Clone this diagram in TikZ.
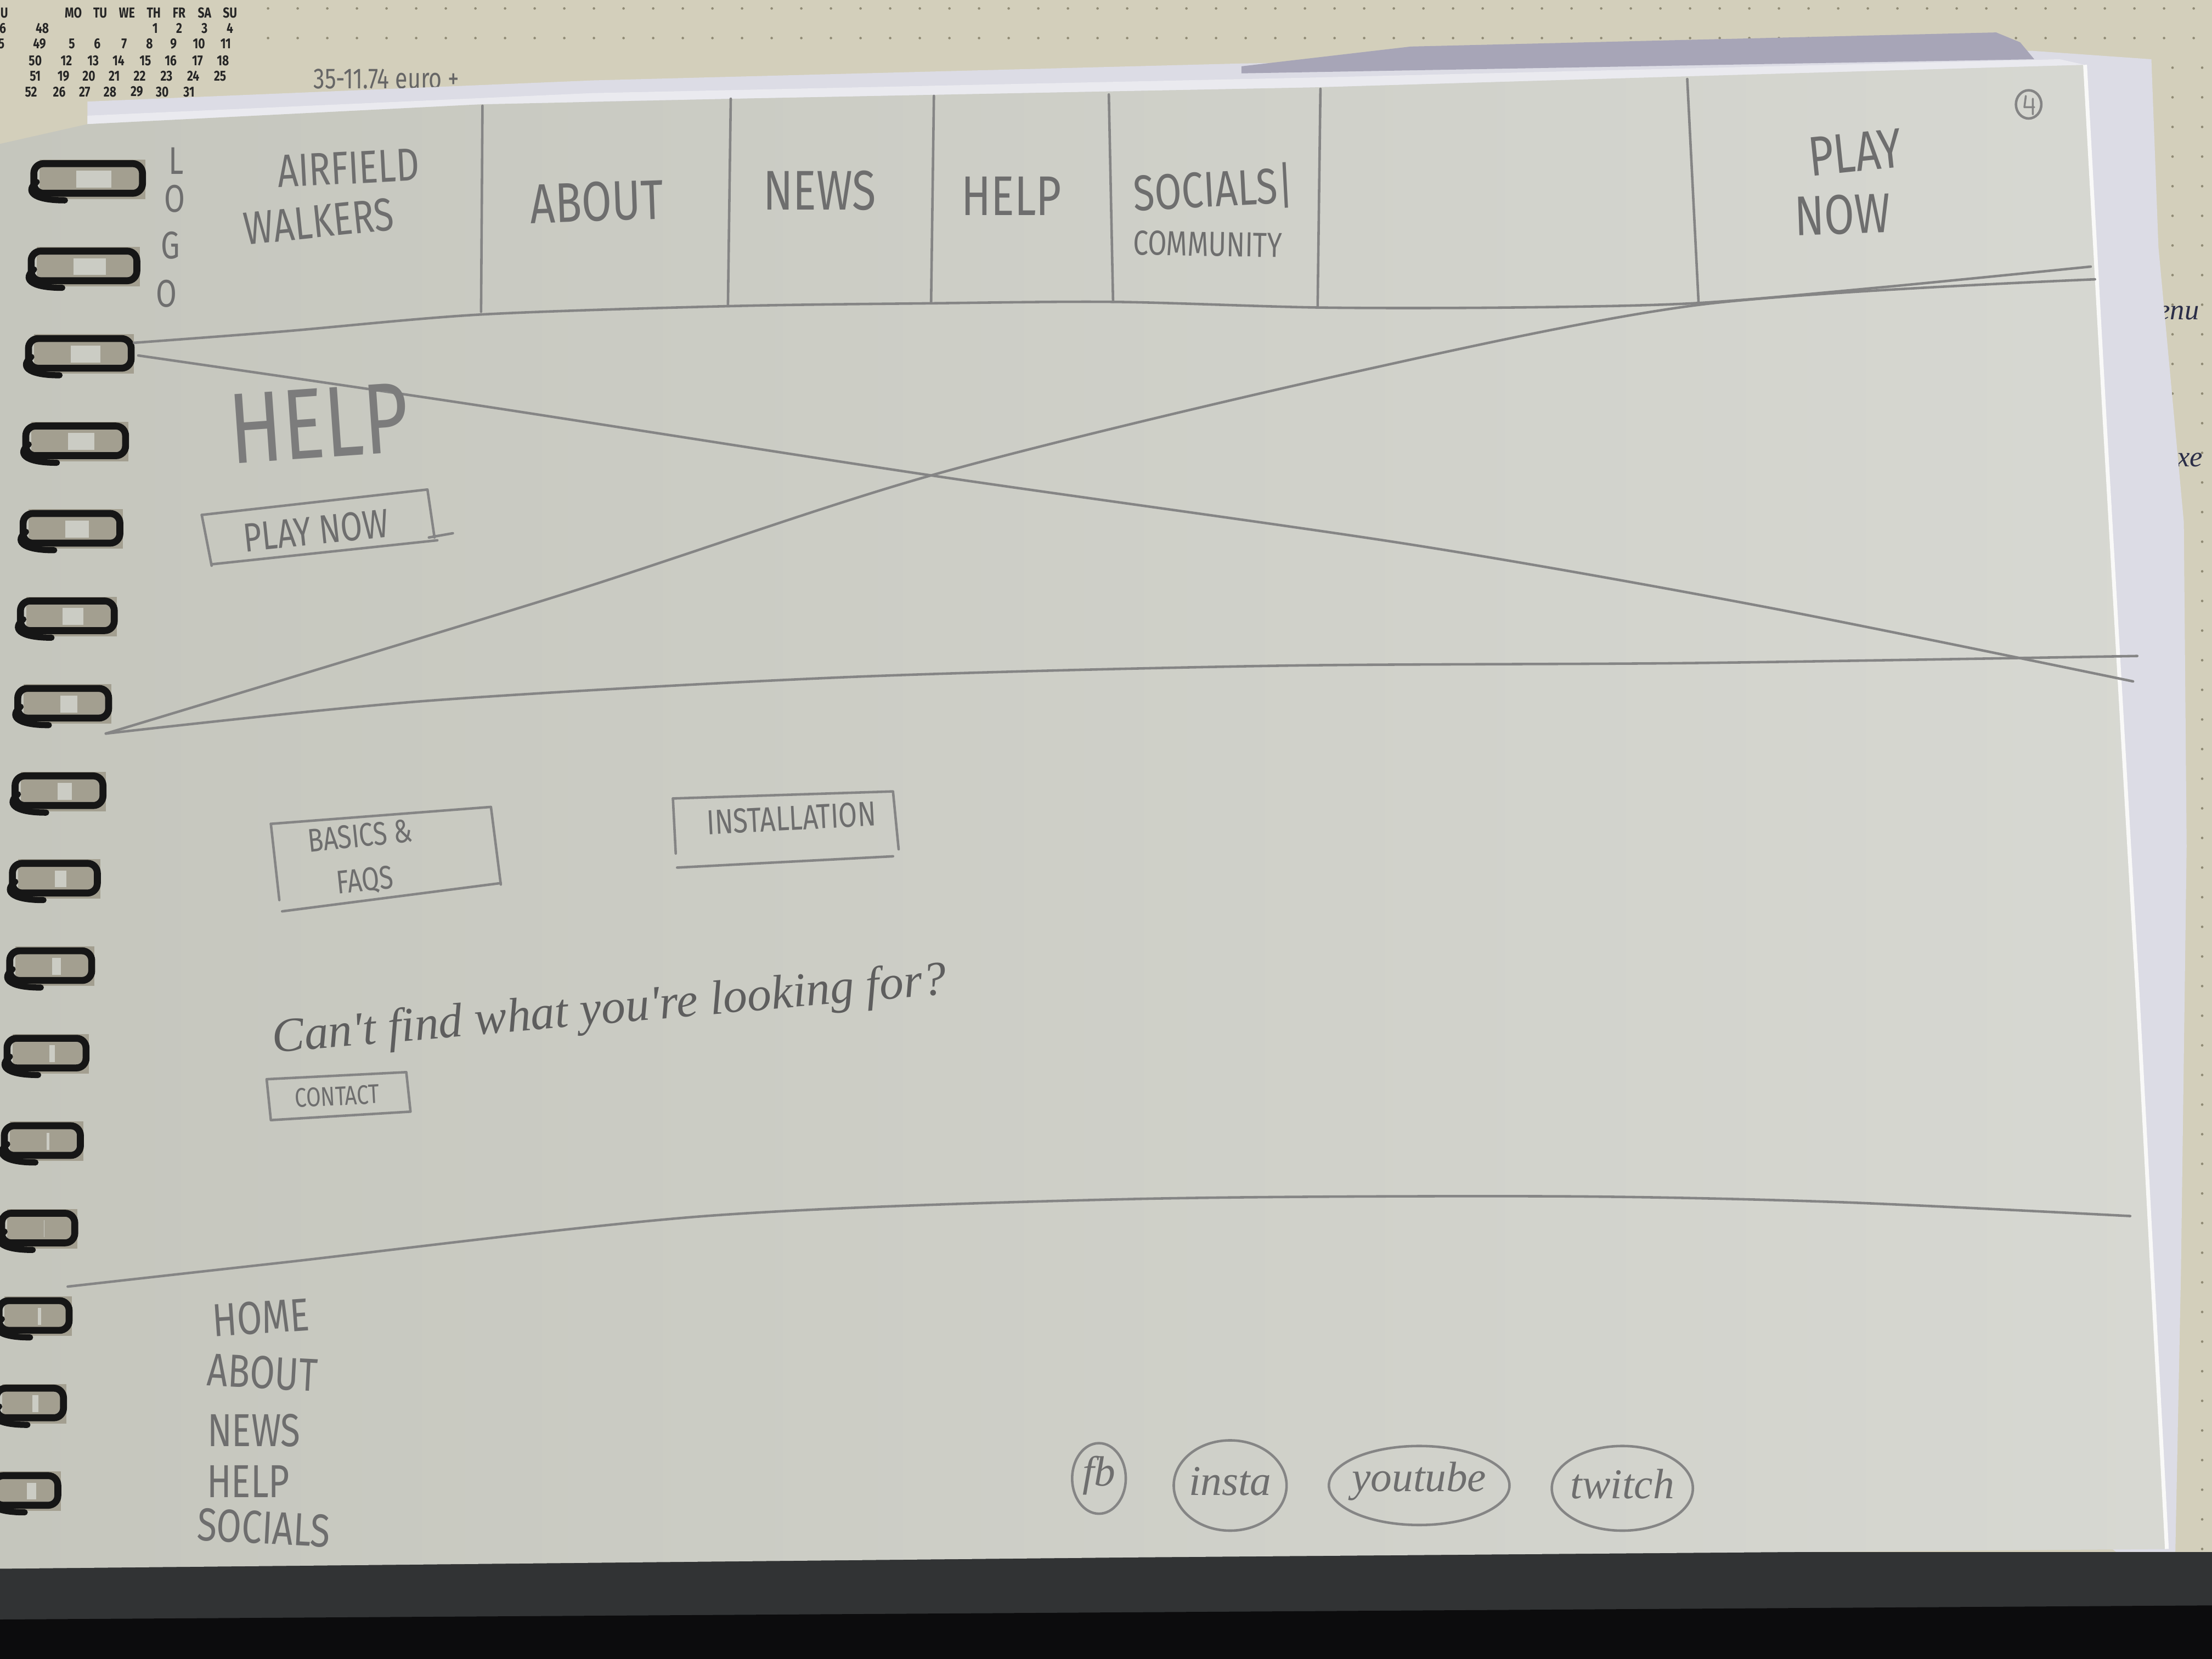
\documentclass[tikz,border=0pt]{standalone}
\usepackage{fontspec}
\setmainfont{Fira Sans}
\newfontfamily\hand[FakeStretch=0.78]{Fira Sans}
\newfontfamily\calfont[FakeStretch=0.8]{Fira Sans}
\newfontfamily\cursive{Liberation Serif}
\newcommand\hsz[1]{\fontsize{#1}{#1}\selectfont}

\definecolor{note}{HTML}{D3CFBB}
\definecolor{notedot}{HTML}{8F8A74}
\definecolor{sheet}{HTML}{DCDCE5}
\definecolor{sheetdark}{HTML}{A7A5B7}
\definecolor{paperL}{HTML}{C5C6BD}
\definecolor{paperR}{HTML}{D7D8D2}
\definecolor{lead}{HTML}{858585}
\definecolor{leadtext}{HTML}{6E6E6E}
\definecolor{ink}{HTML}{2B2E48}
\definecolor{wire}{HTML}{161616}
\definecolor{hole}{HTML}{A39F90}
\definecolor{tabletop}{HTML}{313334}
\definecolor{floor}{HTML}{0C0C0D}

\tikzset{
  pencil/.style={draw=lead, line width=1.3pt, line cap=round, line join=round},
  ptext/.style={text=leadtext, inner sep=0pt},
  navtext/.style={ptext, font=\hand\hsz{29}},
  foottext/.style={ptext, font=\hand\hsz{24}},
  caltext/.style={text=black!85, inner sep=0pt, font=\calfont\bfseries\hsz{7.5}},
  ring/.style={draw=wire, line width=3.6pt, rounded corners=5pt},
}

\begin{document}
\begin{tikzpicture}[x=0.025714cm, y=-0.025714cm]
\useasboundingbox (0,0) rectangle (1568,1176);

% dotted notebook underneath everything
\fill[note] (0,0) rectangle (1568,1176);
\foreach \x in {190,211,...,1568} \foreach \y in {6,27} \fill[notedot] (\x,\y) circle (0.9);
\foreach \x in {1540,1561} \foreach \y in {48,69,...,1100} \fill[notedot] (\x,\y) circle (0.9);

% calendar printed on the notebook
\node[caltext] (cU) at (3,9) {U};
\foreach \d/\x in {MO/52,TU/71,WE/90,TH/109,FR/127,SA/145,SU/163}
  \node[caltext] (cal-\d) at (\x,9) {\d};
\node[caltext] (c6) at (2,20) {6};
\node[caltext] (c5) at (1,31) {5};
\node[caltext] (w48) at (30,20) {48};
\foreach \d/\x in {1/110,2/127,3/145,4/163}
  \node[caltext] (d\d) at (\x,20) {\d};
\node[caltext] (w49) at (28,31) {49};
\foreach \d/\x in {5/51,6/69,7/88,8/106,9/123,10/141,11/160}
  \node[caltext] (d\d) at (\x,31) {\d};
\node[caltext] (w50) at (25,43) {50};
\foreach \d/\x in {12/47,13/66,14/84,15/103,16/121,17/140,18/158}
  \node[caltext] (d\d) at (\x,43) {\d};
\node[caltext] (w51) at (25,54) {51};
\foreach \d/\x in {19/45,20/63,21/81,22/99,23/118,24/137,25/156}
  \node[caltext] (d\d) at (\x,54) {\d};
\node[caltext] (w52) at (22,65) {52};
\foreach \d/\x in {26/42,27/60,28/78,29/97,30/115,31/134}
  \node[caltext] (d\d) at (\x,65) {\d};

% handwriting on the notebook
\node[text=black!60, inner sep=0pt, anchor=west, font=\hand\hsz{15}] (euro) at (222,56) {35-11.74 euro +};
\node[text=ink, inner sep=0pt, anchor=west, font=\cursive\itshape\hsz{15}] (enu) at (1529,222) {enu};
\node[text=ink, inner sep=0pt, anchor=west, font=\cursive\itshape\hsz{15}] (xe) at (1543,326) {xe};

% sheet lying under the sketch page
\fill[sheet] (62,95) -- (62,72) -- (420,57) -- (880,45) -- (1440,36) -- (1525,42)
  -- (1530,175) -- (1548,370) -- (1550,600) -- (1546,900) -- (1542,1100) -- (1500,1100) -- cycle;
\fill[sheetdark] (880,47) -- (1000,33) -- (1415,23) -- (1432,30) -- (1442,42) -- (880,52) -- cycle;
\fill[sheet!60!white] (62,82) -- (420,66) -- (930,55) -- (1460,42) -- (1478,46) -- (930,62) -- (420,72) -- (62,88) -- cycle;

% table edge and floor
\fill[tabletop] (0,1100) rectangle (1568,1176);
\fill[floor] (0,1148) -- (1568,1138) -- (1568,1176) -- (0,1176) -- cycle;

% the sketch page
\shade[left color=paperL, right color=paperR]
  (0,102) -- (62,88) -- (340,74) -- (520,70) -- (930,62) -- (1200,54) -- (1478,46)
  -- (1492,300) -- (1515,700) -- (1536,1098) -- (800,1104) -- (0,1112) -- cycle;
\draw[white!85!paperR, line width=2pt] (1478,46) -- (1492,300) -- (1515,700) -- (1536,1098);

% spiral binding
\foreach \i in {0,...,15} {
  \pgfmathsetmacro\yy{127+\i*62.0}
  \pgfmathsetmacro\ll{24-\i*1.9}
  \pgfmathsetmacro\rr{101-\i*4.0}
  \fill[hole] (\ll+4,\yy-14) rectangle (\rr+2,\yy+14);
  \fill[paperL!90!white] (\ll+30,\yy-6) rectangle (\rr-22,\yy+6);
  \draw[ring] (\rr,\yy-11) -- (\ll,\yy-11) -- (\ll,\yy+10) -- (\rr,\yy+10) -- cycle;
  \draw[wire, line width=3.2pt, line cap=round] (\ll+2,\yy+2) .. controls (\ll-6,\yy+8) and (\ll-2,\yy+15) .. (\ll+22,\yy+15);
}

% ---------- header ----------
\draw[pencil] plot[smooth] coordinates {(95,243) (200,235) (340,223) (517,217) (660,215) (790,214) (935,218) (1070,218) (1200,215) (1330,204) (1482,189)};
\draw[pencil] (342,75) -- (341,221);
\draw[pencil] (518,70) -- (516,217);
\draw[pencil] (662,68) -- (660,215);
\draw[pencil] (786,67) -- (789,214);
\draw[pencil] (936,63) -- (934,218);
\draw[pencil] (1196,56) -- (1204,214);

\node[ptext, font=\hand\hsz{20}] (logo-l) at (125,114) {L};
\node[ptext, font=\hand\hsz{20}] (logo-o) at (124,141) {O};
\node[ptext, font=\hand\hsz{20}] (logo-g) at (121,174) {G};
\node[ptext, font=\hand\hsz{20}] (logo-o2) at (118,208) {O};
\node[navtext, rotate=3, font=\hand\hsz{24}] (airfield) at (247,119) {AIRFIELD};
\node[navtext, rotate=6, font=\hand\hsz{24}] (walkers) at (226,157) {WALKERS};
\node[navtext, rotate=2] (about) at (423,143) {ABOUT};
\node[navtext] (news) at (581,135) {NEWS};
\node[navtext] (help) at (717,139) {HELP};
\node[navtext, rotate=3, font=\hand\hsz{26}] (socials) at (860,134) {SOCIALS|};
\node[ptext, rotate=-1, font=\hand\hsz{18}] (community) at (856,173) {COMMUNITY};
\node[navtext, rotate=6] (play) at (1315,108) {PLAY};
\node[navtext, rotate=2] (now) at (1306,152) {NOW};
\draw[pencil] (1438,74) ellipse (9 and 10);
\draw[pencil, line width=1pt] (1436,68) -- (1435,76) -- (1442,76) (1441,70) -- (1441,81);

% ---------- hero (image placeholder) ----------
\draw[pencil] plot[smooth] coordinates {(98,252) (330,286) (660,337) (1000,386) (1250,430) (1512,483)};
\draw[pencil] plot[smooth] coordinates {(75,520) (400,421) (660,337) (950,266) (1205,216) (1485,198)};
\draw[pencil] plot[smooth] coordinates {(75,520) (300,497) (600,480) (900,472) (1200,470) (1515,465)};

\node[ptext, rotate=4, font=\hand\hsz{52}, text=leadtext!90] (title) at (226,300) {HELP};
\draw[pencil] (143,365) -- (303,347) -- (308,381) (304,381) -- (321,378);
\draw[pencil] (143,365) -- (150,401);
\draw[pencil] (150,400) -- (310,383);
\node[ptext, rotate=6, font=\hand\hsz{21}] (hero-play) at (224,376) {PLAY NOW};

% ---------- help topics ----------
\draw[pencil] (192,584) -- (348,572) -- (355,627);
\draw[pencil] (192,584) -- (198,638);
\draw[pencil] (200,646) -- (355,626);
\node[ptext, rotate=6, align=center, font=\hand\hsz{17}, execute at begin node={\baselineskip=23pt}] (basics) at (257,609) {BASICS \&\\FAQS};

\draw[pencil] (477,566) -- (633,561) -- (637,602);
\draw[pencil] (477,566) -- (479,605);
\draw[pencil] (480,615) -- (633,607);
\node[ptext, rotate=3, font=\hand\hsz{18}] (install) at (561,580) {INSTALLATION};

\node[ptext, rotate=5, font=\cursive\itshape\hsz{25}, text=leadtext!85!black] (cant) at (432,717) {Can't find what you're looking for?};

\draw[pencil] (189,765) -- (288,760) -- (291,788) -- (192,794) -- cycle;
\node[ptext, rotate=3, font=\hand\hsz{14}] (contact) at (239,777) {CONTACT};

% ---------- footer ----------
\draw[pencil] plot[smooth] coordinates {(48,912) (200,895) (500,862) (800,850) (1100,848) (1300,852) (1510,862)};

\node[foottext, rotate=4] (f-home) at (185,934) {HOME};
\node[foottext, rotate=-3] (f-about) at (186,973) {ABOUT};
\node[foottext] (f-news) at (180,1014) {NEWS};
\node[foottext] (f-help) at (176,1050) {HELP};
\node[foottext, rotate=-3] (f-socials) at (187,1083) {SOCIALS};

\draw[pencil] (779,1048) ellipse (19 and 25);
\node[ptext, font=\cursive\itshape\hsz{22}] (fb) at (779,1046) {fb};
\draw[pencil] (872,1053) ellipse (40 and 32);
\node[ptext, font=\cursive\itshape\hsz{22}] (insta) at (872,1050) {insta};
\draw[pencil] (1006,1053) ellipse (64 and 28);
\node[ptext, font=\cursive\itshape\hsz{22}] (youtube) at (1006,1050) {youtube};
\draw[pencil] (1150,1055) ellipse (50 and 30);
\node[ptext, font=\cursive\itshape\hsz{22}] (twitch) at (1150,1052) {twitch};

\end{tikzpicture}
\end{document}
